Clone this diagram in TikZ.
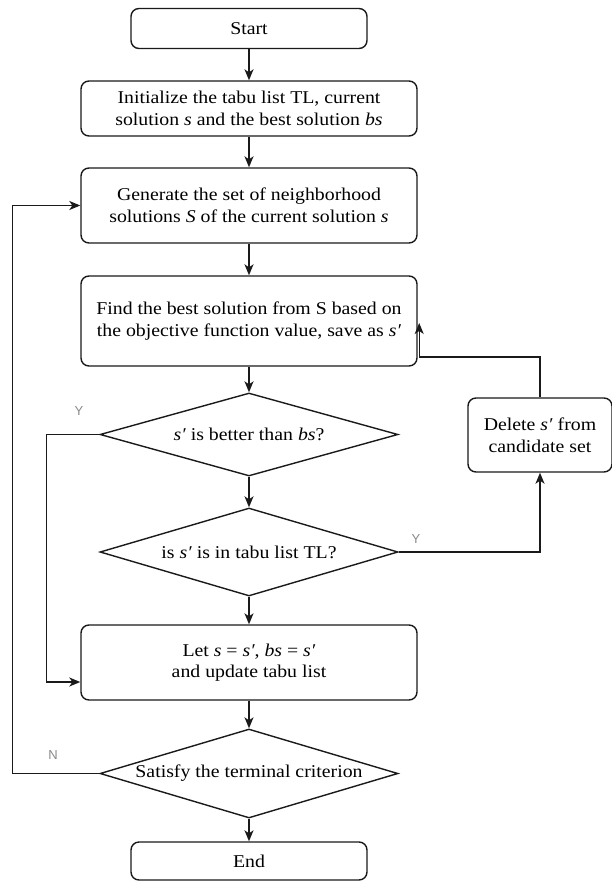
\documentclass[tikz,border=0pt]{standalone}
\usepackage{fontspec}
\setmainfont{Liberation Serif}[FakeStretch=1.1]
\newfontfamily\labelfont{Liberation Sans}
\usepackage{tikz}
\usetikzlibrary{shapes.geometric, arrows.meta, positioning, calc}
\definecolor{flowline}{HTML}{1a1a1a}
\definecolor{branchgrey}{HTML}{8a8a8a}
\tikzset{
  procbox/.style={rectangle, draw=flowline, fill=white, line width=1.4pt,
                  rounded corners=8pt, minimum width=336pt, minimum height=75pt,
                  align=center, inner sep=2pt, font=\fontsize{18}{21.5}\selectfont},
  termbox/.style={procbox, minimum width=236pt, minimum height=40pt},
  sidebox/.style={procbox, minimum width=144pt, minimum height=74pt},
  decision/.style={diamond, draw=flowline, fill=white, line width=1.4pt,
                   aspect=3.5, inner sep=0pt, minimum width=298pt, minimum height=86pt,
                   align=center, font=\fontsize{18}{21.5}\selectfont},
  link/.style={-{Stealth[length=11pt,width=9pt,inset=3pt]}, line width=1.4pt, draw=flowline},
  branchlabel/.style={font=\labelfont\fontsize{13}{15}\selectfont, text=branchgrey, inner sep=1pt},
}

\begin{document}
\begin{tikzpicture}[x=1pt, y=1pt]
  \useasboundingbox (0,0) rectangle (612,-882);

  % --- main column ---
  \node[termbox] (start) at (249,-28.5) {Start};
  \node[procbox, minimum height=55pt] (init) at (249,-108.5)
    {Initialize the tabu list TL, current\\solution \textit{s} and the best solution \textit{bs}};
  \node[procbox] (gen) at (249,-205.5)
    {Generate the set of neighborhood\\solutions \textit{S} of the current solution \textit{s}};
  \node[procbox, minimum height=90pt] (find) at (249,-321)
    {Find the best solution from S based on\\the objective function value, save as \textit{s′}};
  \node[decision, minimum height=83pt] (better) at (249,-434.5)
    {\textit{s′} is better than \textit{bs}?};
  \node[decision, minimum height=88pt] (intabu) at (249,-552)
    {is \textit{s′} is in tabu list TL?};
  \node[procbox] (update) at (249,-662.5)
    {Let \textit{s} = \textit{s′}, \textit{bs} = \textit{s′}\\and update tabu list};
  \node[decision, minimum height=89pt] (stop) at (249,-773.5)
    {Satisfy the terminal criterion};
  \node[termbox, minimum height=38pt] (end) at (249,-861) {End};

  % --- side box ---
  \node[sidebox] (delete) at (540,-435)
    {Delete \textit{s′} from\\candidate set};

  % Main flow
  \draw[link] (start) -- (init);
  \draw[link] (init) -- (gen);
  \draw[link] (gen) -- (find);
  \draw[link] (find) -- (better);
  \draw[link] (better) -- (intabu);
  \draw[link] (intabu) -- (update);
  \draw[link] (update) -- (stop);
  \draw[link] (stop) -- (end);

  % Branches
  \draw[link] (better.west) -- ++(-53,0) |- ([yshift=-19.5pt]update.west);
  \draw[link] (intabu.east) -| (delete.south);
  \draw[link] (delete.north) |- ([xshift=1.5pt, yshift=-36pt]find.east)
    -- ([xshift=1.5pt, yshift=-2pt]find.east);
  \draw[link] (stop.west) -- ++(-87,0) |- (gen.west);

  \node[branchlabel] at (79,-411) {Y};
  \node[branchlabel] at (416,-539) {Y};
  \node[branchlabel] at (53,-755) {N};
\end{tikzpicture}
\end{document}
